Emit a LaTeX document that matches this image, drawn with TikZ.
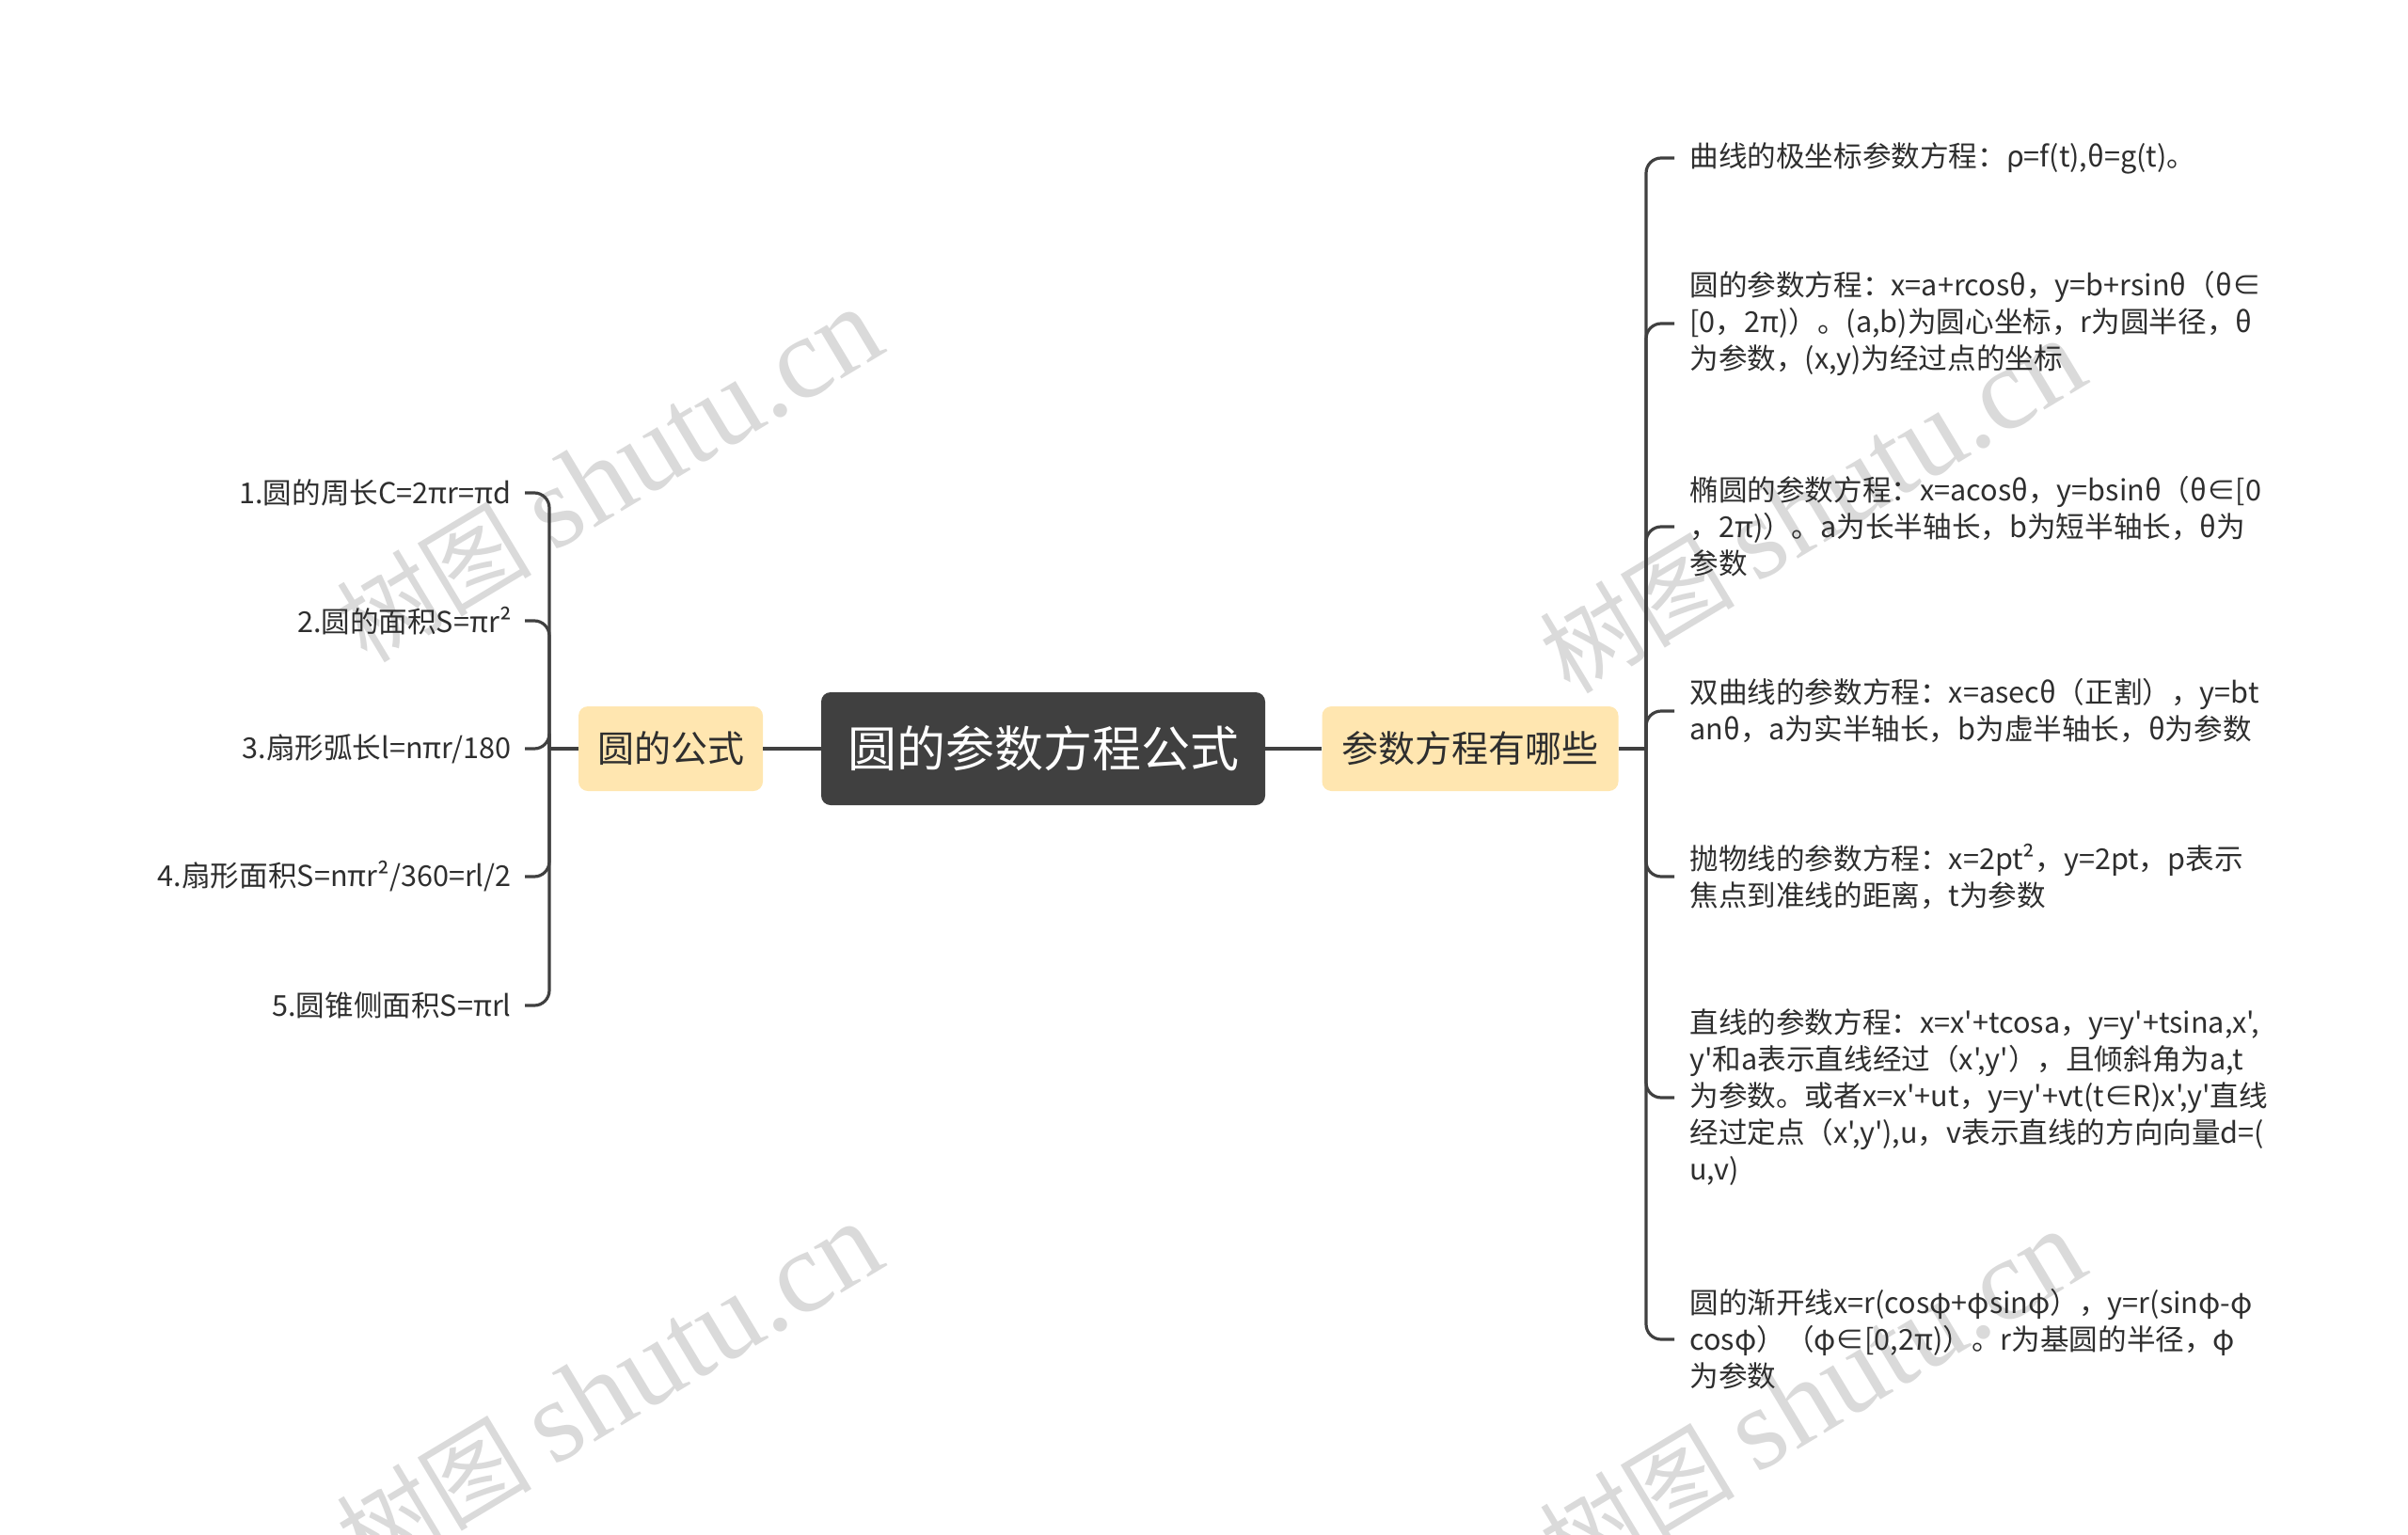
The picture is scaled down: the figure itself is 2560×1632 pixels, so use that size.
\documentclass[tikz,border=0pt]{standalone}
\usepackage{fontspec}
\setmainfont{Noto Sans CJK SC}[Ligatures=TeXOff]
\newfontfamily\wmlatin{Liberation Serif}
\definecolor{linegray}{HTML}{404040}
\definecolor{rootfill}{HTML}{404040}
\definecolor{branchfill}{HTML}{FFE6B0}
\definecolor{txt}{HTML}{2E2E2E}
\definecolor{wm}{HTML}{DADADA}
\begin{document}
\begin{tikzpicture}[x=0.5pt,y=-0.5pt,
  linec/.style={draw=linegray,line width=1.6pt,rounded corners=8pt},
  rootbox/.style={fill=rootfill,rounded corners=5pt,text=white,minimum width=236pt,minimum height=60pt,font=\fontsize{26}{30}\selectfont,inner sep=0pt},
  branchbox/.style={fill=branchfill,rounded corners=5pt,text=txt,minimum height=45pt,font=\fontsize{19.5}{23}\selectfont,inner sep=0pt},
  leafL/.style={anchor=east,inner xsep=7pt,inner ysep=0pt,text=txt,font=\fontsize{15.3}{19.5}\selectfont},
  leafR/.style={anchor=west,inner xsep=8pt,inner ysep=0pt,align=left,text=txt,font=\fontsize{15.3}{19.5}\selectfont},
  wmark/.style={rotate=31,text=wm,font=\fontsize{52}{60}\selectfont}]
\useasboundingbox (0,0) rectangle (2560,1632);
% watermarks
\node[wmark] (w1) at (648,506) {树图 {\wmlatin\fontsize{62}{64}\selectfont shutu.cn}};
\node[wmark] (w2) at (1927,539) {树图 {\wmlatin\fontsize{62}{64}\selectfont shutu.cn}};
\node[wmark] (w3) at (648,1478) {树图 {\wmlatin\fontsize{62}{64}\selectfont shutu.cn}};
\node[wmark] (w4) at (1927,1486) {树图 {\wmlatin\fontsize{62}{64}\selectfont shutu.cn}};
% main nodes
\node[rootbox] (root) at (1109,796) {圆的参数方程公式};
\node[branchbox,minimum width=98pt] (bl) at (713,796) {圆的公式};
\node[branchbox,minimum width=157.5pt] (br) at (1563,796) {参数方程有哪些};
\draw[linec] (root.west) -- (bl.east);
\draw[linec] (root.east) -- (br.west);
% left leaves
\node[leafL] (l1) at (558,524) {1.圆的周长C=2πr=πd};
\node[leafL] (l2) at (558,660) {2.圆的面积S=πr²};
\node[leafL] (l3) at (558,796) {3.扇形弧长l=nπr/180};
\node[leafL] (l4) at (558,932) {4.扇形面积S=nπr²/360=rl/2};
\node[leafL] (l5) at (558,1069) {5.圆锥侧面积S=πrl};
\coordinate (lj) at (584,796);
\draw[linec] (bl.west) -- (lj);
\foreach \n in {l1,l2,l3,l4,l5} \draw[linec] (lj) |- (\n.east);
% right leaves
\node[leafR] (r1) at (1780,168) {曲线的极坐标参数方程：ρ=f(t),θ=g(t)。};
\node[leafR] (r2) at (1780,344) {圆的参数方程：x=a+rcosθ，y=b+rsinθ（θ∈\\\relax [0，2π)）。(a,b)为圆心坐标，r为圆半径，θ\\为参数，(x,y)为经过点的坐标};
\node[leafR] (r3) at (1780,560) {椭圆的参数方程：x=acosθ，y=bsinθ（θ∈[0\\，2π)）。a为长半轴长，b为短半轴长，θ为\\参数};
\node[leafR] (r4) at (1780,756) {双曲线的参数方程：x=asecθ（正割），y=bt\\anθ，a为实半轴长，b为虚半轴长，θ为参数};
\node[leafR] (r5) at (1780,932) {抛物线的参数方程：x=2pt²，y=2pt，p表示\\焦点到准线的距离，t为参数};
\node[leafR] (r6) at (1780,1167) {直线的参数方程：x=x'+tcosa，y=y'+tsina,x',\\y'和a表示直线经过（x',y'），且倾斜角为a,t\\为参数。或者x=x'+ut，y=y'+vt(t∈R)x',y'直线\\经过定点（x',y'),u，v表示直线的方向向量d=(\\u,v)};
\node[leafR] (r7) at (1780,1424) {圆的渐开线x=r(cosφ+φsinφ），y=r(sinφ-φ\\cosφ）（φ∈[0,2π)）。r为基圆的半径，φ\\为参数};
\coordinate (rj) at (1750,796);
\draw[linec] (br.east) -- (rj);
\foreach \n in {r1,r2,r3,r4,r5,r6,r7} \draw[linec] (rj) |- (\n.west);
\end{tikzpicture}
\end{document}
